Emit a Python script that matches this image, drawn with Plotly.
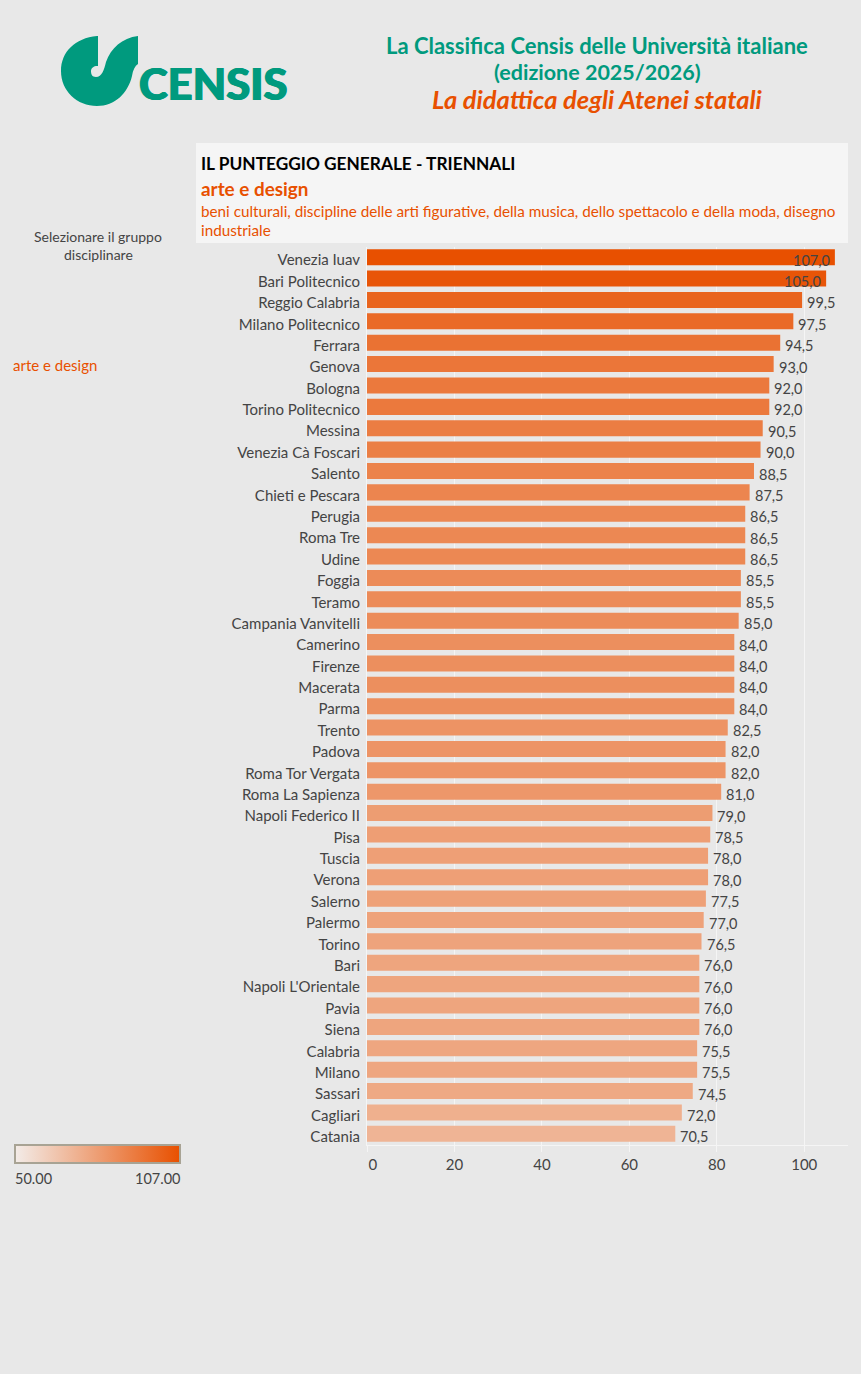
import plotly.graph_objects as go

W = 861
H = 1374

atenei = ["Venezia Iuav", "Bari Politecnico", "Reggio Calabria", "Milano Politecnico", "Ferrara", "Genova",
          "Bologna", "Torino Politecnico", "Messina", "Venezia Cà Foscari", "Salento", "Chieti e Pescara",
          "Perugia", "Roma Tre", "Udine", "Foggia", "Teramo", "Campania Vanvitelli", "Camerino", "Firenze",
          "Macerata", "Parma", "Trento", "Padova", "Roma Tor Vergata", "Roma La Sapienza", "Napoli Federico II",
          "Pisa", "Tuscia", "Verona", "Salerno", "Palermo", "Torino", "Bari", "Napoli L'Orientale", "Pavia",
          "Siena", "Calabria", "Milano", "Sassari", "Cagliari", "Catania"]
punteggi = [107.0, 105.0, 99.5, 97.5, 94.5, 93.0, 92.0, 92.0, 90.5, 90.0, 88.5, 87.5, 86.5, 86.5, 86.5, 85.5,
            85.5, 85.0, 84.0, 84.0, 84.0, 84.0, 82.5, 82.0, 82.0, 81.0, 79.0, 78.5, 78.0, 78.0, 77.5, 77.0,
            76.5, 76.0, 76.0, 76.0, 76.0, 75.5, 75.5, 74.5, 72.0, 70.5]
x_ticks = [0, 20, 40, 60, 80, 100]
x_labels = ["\u00a0\u00a0\u00a00", "20", "40", "60", "80", "100"]
scala_min = 50
scala_max = 107

FONT = "Lato"
GREEN = "#009A7E"
ORANGE = "#E85000"
DARK = "#444444"
BG = "#E8E8E8"


def px(x):
    return x / W


def py(y):
    return 1 - y / H


def path(*parts):
    # parts are ("M", x, y), ("C", x1, y1, x2, y2, x, y) ... in page pixels
    out = ""
    for p in parts:
        out += p[0]
        nums = p[1:]
        for i in range(0, len(nums), 2):
            out += f" {px(nums[i]):.5f},{py(nums[i + 1]):.5f} "
    return out


def label(x, y, text, size, color=DARK, anchor="left", weight=400, italic=False, shadow="none"):
    return dict(xref="paper", yref="paper", x=px(x), y=py(y), text=text, showarrow=False,
                xanchor=anchor, yanchor="middle", align=anchor, borderpad=0, borderwidth=0,
                font=dict(family=FONT, size=size, color=color, weight=weight, shadow=shadow,
                          style="italic" if italic else "normal"))


fig = go.Figure()
fig.add_bar(
    x=punteggi, y=atenei, orientation="h", width=0.75,
    marker=dict(
        color=punteggi, cmin=scala_min, cmax=scala_max,
        colorscale=[[0, "#F3ECE8"], [1, ORANGE]], showscale=True, line_width=0,
        colorbar=dict(
            orientation="h", lenmode="pixels", len=165, thicknessmode="pixels", thickness=18,
            x=px(15), xanchor="left", y=py(1145), yanchor="top", xpad=0, ypad=0,
            outlinecolor="#A8A394", outlinewidth=2, showticklabels=False, ticks="", borderwidth=0,
        ),
    ),
)

notes = []
# valori sulle barre, i primi due non ci stanno e vanno dentro
for nome, val in zip(atenei, punteggi):
    dentro = val > 100
    notes.append(dict(x=val, y=nome, xref="x", yref="y", text=f"{val:.1f}".replace(".", ","), showarrow=False,
                      xanchor="right" if dentro else "left", xshift=-5 if dentro else 5, yshift=-3,
                      borderpad=0, borderwidth=0,
                      font=dict(family=FONT, size=14.5, color=DARK)))

notes += [
    label(597, 45.5, "La Classifica Censis delle Università italiane", 22, GREEN, "center", weight=700),
    label(597, 71.5, "(edizione 2025/2026)", 21.5, GREEN, "center", weight=700),
    label(597, 99, "La didattica degli Atenei statali", 25.5, ORANGE, "center", weight=700, italic=True),
    label(201, 164, "IL PUNTEGGIO GENERALE - TRIENNALI", 17.3, "#000000", weight=700),
    label(201, 189, "arte e design", 18.9, ORANGE, weight=700),
    label(201, 211, "beni culturali, discipline delle arti figurative, della musica, dello spettacolo e della moda, disegno", 15.25, ORANGE),
    label(201, 230, "industriale", 15.25, ORANGE),
    label(98, 236, "Selezionare il gruppo", 14, DARK, "center"),
    label(98, 255, "disciplinare", 14, DARK, "center"),
    label(13, 365, "arte e design", 15, ORANGE),
    label(15, 1178, "50.00", 14.5, DARK),
    label(180, 1178, "107.00", 14.5, DARK, "right"),
    label(139, 83.5, "CENSIS", 43.5, GREEN, weight=900, shadow=f"0.7px 0 0 {GREEN}, -0.7px 0 0 {GREEN}"),
]

logo = path(("M", 97, 36), ("C", 75, 38, 61, 52, 61, 71), ("C", 61, 91, 77, 106, 97, 106),
            ("C", 115, 106, 128, 93, 132, 76), ("C", 133, 70, 135, 66, 138, 64), ("L", 138, 36),
            ("C", 122, 38, 111, 48, 106, 62), ("C", 104, 70, 102, 77, 96, 77),
            ("C", 92, 77, 91, 74, 91, 71), ("C", 91, 68, 94, 66, 97, 66), ("L", 98, 66), ("L", 98, 36)) + "Z"

fig.update_layout(
    width=W, height=H, autosize=False,
    margin=dict(l=0, r=0, t=0, b=0, pad=0, autoexpand=False),
    paper_bgcolor=BG, plot_bgcolor=BG,
    showlegend=False, annotations=notes,
    font=dict(family=FONT, size=14, color=DARK),
    shapes=[
        dict(type="rect", xref="paper", yref="paper", x0=px(196), x1=px(848), y0=py(143), y1=py(243),
             fillcolor="#F5F5F5", line_width=0, layer="below"),
        dict(type="path", xref="paper", yref="paper", path=logo, fillcolor=GREEN, line_width=0),
    ],
    xaxis=dict(
        domain=[px(367), px(848)], range=[0, 110], tickvals=x_ticks, ticktext=x_labels, side="bottom",
        showgrid=True, gridcolor="#F5F5F5", gridwidth=1.2, zeroline=False,
        showline=True, linecolor="#F5F5F5", linewidth=1,
        ticks="outside", ticklen=6, tickcolor="#F5F5F5", tickwidth=1,
        tickfont=dict(family=FONT, size=15, color=DARK),
    ),
    yaxis=dict(
        domain=[py(1144.5), py(246.5)], categoryorder="array", categoryarray=atenei, range=[41.5, -0.5],
        showgrid=False, zeroline=False, showline=True, linecolor="#F5F5F5", linewidth=1,
        ticks="", ticklabelstandoff=3, ticklabelshift=-3,
        tickfont=dict(family=FONT, size=15, color=DARK),
    ),
)

fig.write_html("out.html", config=dict(displayModeBar=False),
               post_script="document.body.style.margin='0';document.body.style.overflow='hidden';")
